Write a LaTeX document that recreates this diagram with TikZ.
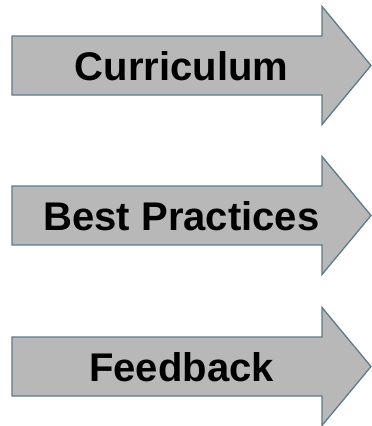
\documentclass[tikz,border=0pt]{standalone}
\usepackage{fontspec}
\setmainfont{Liberation Sans}
\definecolor{arrowfill}{HTML}{B8B8B8}
\definecolor{arrowline}{HTML}{5D7B8B}
\begin{document}
\begin{tikzpicture}[x=1pt,y=-1pt,
  blockarrow/.style={fill=arrowfill,draw=arrowline,line width=1.3pt,line join=miter},
  arrowlabel/.style={anchor=base,inner sep=0pt,font=\fontsize{40}{40}\selectfont\bfseries}]
  \useasboundingbox (0,0) rectangle (372,426);
  % three block arrows; #1 = vertical centre of the shaft
  \foreach \cy/\lbl/\nm in {65.5/Curriculum/a, 215.5/Best Practices/b, 366.5/Feedback/c}{
    \draw[blockarrow] (12,\cy-29.5) -- (322,\cy-29.5) -- (322,\cy-59)
      -- (371,\cy) -- (322,\cy+59) -- (322,\cy+29.5) -- (12,\cy+29.5) -- cycle;
    \node[arrowlabel] (\nm) at (181.5,\cy+14.5) {\lbl};
  }
\end{tikzpicture}
\end{document}
